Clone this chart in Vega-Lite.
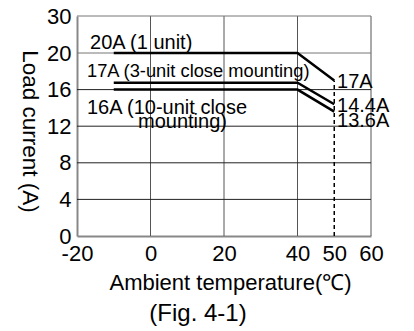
{
  "$schema": "https://vega.github.io/schema/vega-lite/v6.json",
  "width": 294,
  "height": 220,
  "autosize": "none",
  "padding": {"left": 77, "top": 16, "right": 43, "bottom": 95},
  "config": {"view": {"stroke": null}, "font": "Liberation Sans"},
  "title": {"text": "(Fig. 4-1)", "orient": "bottom", "fontSize": 24, "fontWeight": "normal", "color": "black", "anchor": "middle", "dx": -26, "offset": 9, "font": "Liberation Sans"},
  "datasets": {
    "lines": [
      {"s": "1 unit", "t": -10, "a": 20}, {"s": "1 unit", "t": 40, "a": 20}, {"s": "1 unit", "t": 50, "a": 17},
      {"s": "3 unit", "t": -10, "a": 16.75}, {"s": "3 unit", "t": 40, "a": 16.75}, {"s": "3 unit", "t": 50, "a": 14.4},
      {"s": "10 unit", "t": -10, "a": 16}, {"s": "10 unit", "t": 40, "a": 16}, {"s": "10 unit", "t": 50, "a": 13.6}
    ],
    "labels": [
      {"t": -16.46, "a": 21.16, "label": "20A (1 unit)"},
      {"t": -17.28, "a": 13.33, "label": "16A (10-unit close"},
      {"t": -3.4, "a": 11.8, "label": "mounting)"},
      {"t": 50.75, "a": 16.14, "label": "17A"},
      {"t": 50.75, "a": 13.58, "label": "14.4A"},
      {"t": 50.75, "a": 11.88, "label": "13.6A"}
    ],
    "labels2": [
      {"t": -17.28, "a": 17.34, "label": "17A (3-unit close mounting)"}
    ],
    "vgrid": [{"t": 0, "a": 0, "a2": 30}, {"t": 20, "a": 0, "a2": 30}, {"t": 40, "a": 0, "a2": 30}, {"t": 60, "a": 0, "a2": 30}],
    "hgridDark": [{"a": 4, "t": -20, "t2": 60}, {"a": 8, "t": -20, "t2": 60}, {"a": 12, "t": -20, "t2": 60}, {"a": 16, "t": -20, "t2": 60}],
    "hgridLight": [{"a": 20, "t": -20, "t2": 60}, {"a": 30, "t": -20, "t2": 60}],
    "dash": [{"t": 50, "a": 0, "a2": 17}]
  },
  "encoding": {
    "x": {"field": "t", "type": "quantitative", "scale": {"domain": [-20, 60], "nice": false, "zero": false},
      "axis": {"values": [-20, 0, 20, 40, 50, 60], "ticks": false, "grid": false, "domainColor": "#888", "domainWidth": 2,
        "labelExpr": "'' + datum.value",
        "labelFontSize": 22, "labelColor": "black", "labelFont": "Liberation Sans", "labelPadding": 7, "labelFlush": false, "labelOverlap": false,
        "title": "Ambient temperature(℃)", "titleFontSize": 22, "titleFontWeight": "normal", "titleColor": "black", "titleFont": "Liberation Sans",
        "titleX": 153, "titleY": 53, "titleBaseline": "alphabetic", "titleAlign": "center"}},
    "y": {"field": "a", "type": "quantitative", "scale": {"domain": [0, 20, 30], "range": [220, 37, 0], "nice": false, "zero": false},
      "axis": {"values": [0, 4, 8, 12, 16, 20, 30], "ticks": false, "grid": false, "domainColor": "#888", "domainWidth": 2,
        "labelFontSize": 22, "labelColor": "black", "labelFont": "Liberation Sans", "labelPadding": 6, "labelFlush": false, "labelOverlap": false,
        "title": "Load current (A)", "titleFontSize": 22.5, "titleFontWeight": "normal", "titleColor": "black", "titleFont": "Liberation Sans",
        "titleAngle": 90, "titleX": -48, "titleY": 115, "titleAlign": "center", "titleBaseline": "middle"}}
  },
  "layer": [
    {
      "data": {"name": "vgrid"},
      "mark": {"type": "rule", "color": "#555", "strokeWidth": 1},
      "encoding": {"y2": {"field": "a2"}}
    },
    {
      "data": {"name": "hgridDark"},
      "mark": {"type": "rule", "color": "#222", "strokeWidth": 1},
      "encoding": {"x2": {"field": "t2"}}
    },
    {
      "data": {"name": "hgridLight"},
      "mark": {"type": "rule", "color": "#777", "strokeWidth": 1},
      "encoding": {"x2": {"field": "t2"}}
    },
    {
      "data": {"name": "dash"},
      "mark": {"type": "rule", "color": "black", "strokeWidth": 1.5, "strokeDash": [4, 3]},
      "encoding": {"y2": {"field": "a2"}}
    },
    {
      "data": {"name": "lines"},
      "mark": {"type": "line", "color": "black", "strokeWidth": 2.5},
      "encoding": {"detail": {"field": "s"}}
    },
    {
      "data": {"name": "labels"},
      "mark": {"type": "text", "align": "left", "baseline": "alphabetic", "fontSize": 20, "color": "black", "font": "Liberation Sans"},
      "encoding": {"text": {"field": "label"}}
    },
    {
      "data": {"name": "labels2"},
      "mark": {"type": "text", "align": "left", "baseline": "alphabetic", "fontSize": 18.3, "color": "black", "font": "Liberation Sans"},
      "encoding": {"text": {"field": "label"}}
    }
  ]
}
